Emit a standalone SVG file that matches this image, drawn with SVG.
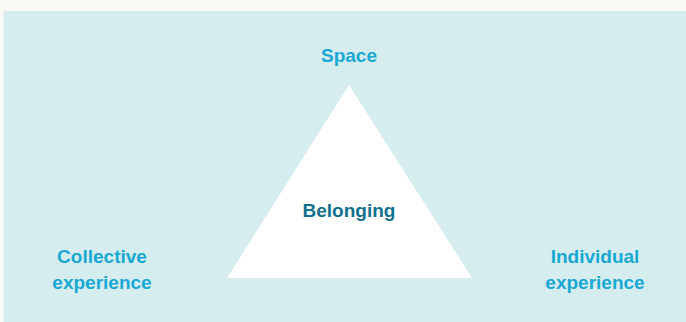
<svg xmlns="http://www.w3.org/2000/svg" width="686" height="322" viewBox="0 0 686 322">
<style>
.lbl{font-family:"Liberation Sans",Arial,sans-serif;font-weight:bold;font-size:19px;fill:#18a8d3;text-anchor:middle}
.core{fill:#13708f}
</style>
<rect x="0" y="0" width="686" height="322" fill="#f9f8f3"/>
<rect x="3.5" y="11" width="683" height="311" fill="#d6edf0"/>
<g id="triangle">
<polygon points="349,85 472,278 227,278" fill="#ffffff"/>
<text class="lbl core" x="349" y="217">Belonging</text>
</g>
<g id="space"><text class="lbl" x="349" y="62">Space</text></g>
<g id="collective"><text class="lbl" x="102" y="263">Collective</text><text class="lbl" x="102" y="289">experience</text></g>
<g id="individual"><text class="lbl" x="595" y="263">Individual</text><text class="lbl" x="595" y="289">experience</text></g>
<g id="connectors"/>
</svg>
